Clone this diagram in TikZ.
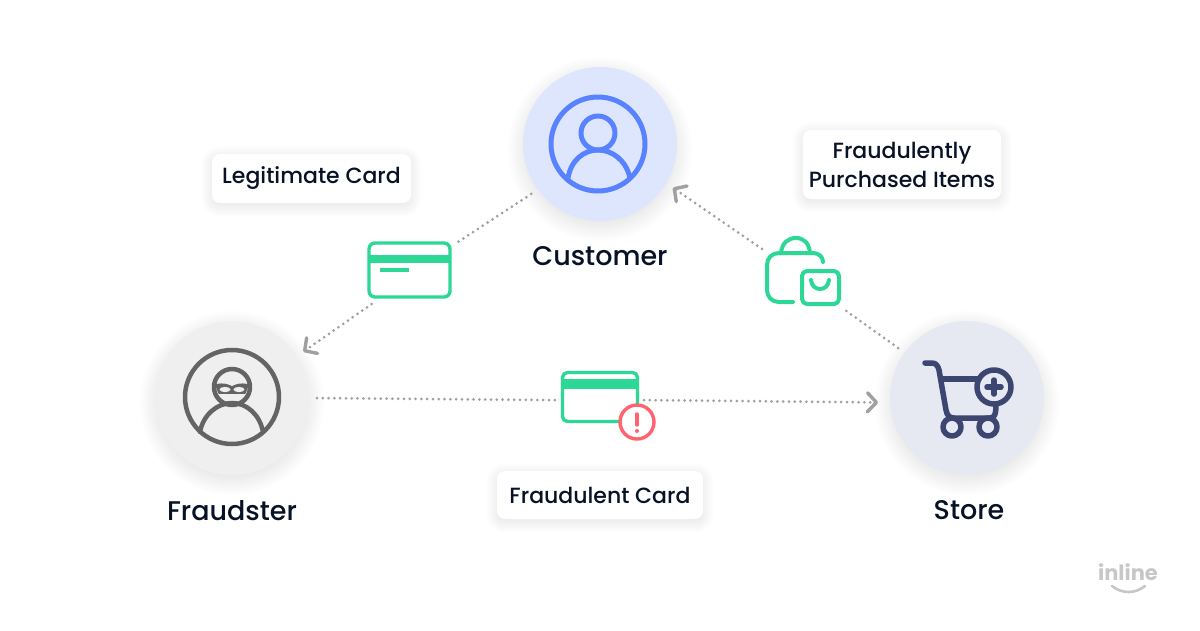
\documentclass[tikz,border=0pt]{standalone}
\usepackage{fontspec}
\setmainfont{Poppins Medium}[BoldFont=Poppins Bold]
\usetikzlibrary{arrows.meta, positioning, backgrounds}
\definecolor{inkNavy}{RGB}{8, 18, 38}
\definecolor{cardGreen}{RGB}{45, 215, 150}
\definecolor{alertRed}{RGB}{255, 99, 112}
\definecolor{custBlue}{RGB}{88, 130, 255}
\definecolor{custFill}{RGB}{222, 230, 253}
\definecolor{fraudGray}{RGB}{100, 100, 100}
\definecolor{fraudFill}{RGB}{239, 239, 239}
\definecolor{storeNavy}{RGB}{61, 70, 112}
\definecolor{storeFill}{RGB}{230, 232, 242}
\definecolor{dotGray}{RGB}{160, 160, 160}
% Soft shadows, built from stacked see-through shapes
\newcommand{\softDisc}[1]{
    \foreach \grow in {-3,-1,...,15}
        \fill [black, opacity=0.009] ([yshift=-5pt]#1.center) circle [radius=77pt+\grow pt];
}
\newcommand{\softBox}[1]{
    \foreach \grow in {-3,-1.5,...,10.5}
        \fill [black, opacity=0.009, rounded corners=8pt+\grow pt]
            ([shift={(-\grow pt,-\grow pt-3pt)}]#1.south west) rectangle ([shift={(\grow pt,\grow pt-3pt)}]#1.north east);
}
\tikzset{
    % Round actor badges
    actor/.style={
        circle,
        minimum size=154pt,
        inner sep=0pt,
        outer sep=8pt
    },
    actorName/.style={font=\fontsize{27}{32}\selectfont, text=inkNavy, inner sep=0pt},
    % White captions
    caption/.style={
        rectangle,
        rounded corners=8pt,
        fill=white,
        inner sep=0pt,
        outer sep=0pt,
        align=center,
        font=\fontsize{22}{29}\selectfont,
        text=inkNavy
    },
    % Invisible holders for the icons
    iconBox/.style={rectangle, inner sep=0pt, outer sep=5pt},
    % Arrow & icon styles
    dotLine/.style={draw=dotGray, line width=3pt, line cap=round, dash pattern=on 0pt off 5.8pt},
    dotArrow/.style={dotLine, -{Straight Barb[length=9pt, width=19pt, line width=3.4pt, round]}},
    iconLine/.style={line width=5pt, line cap=round, line join=round},
    greenLine/.style={draw=cardGreen, line width=3.4pt, line cap=round, line join=round}
}
\begin{document}
\begin{tikzpicture}[x=1pt, y=-1pt]

    \useasboundingbox (0,0) rectangle (1200,630);

    % --- Actors ---
    \node (customer) [actor, fill=custFill] at (600,144) {};
    \node (fraudster) [actor, fill=fraudFill] at (232,398) {};
    \node (store) [actor, fill=storeFill] at (967,398) {};

    \node (customerName) [actorName, below=17pt of customer] {Customer};
    \node (fraudsterName) [actorName, below=17pt of fraudster] {Fraudster};
    \node (storeName) [actorName, below=17pt of store, xshift=2pt] {Store};

    % --- Icon holders ---
    \node (cardA) [iconBox, minimum width=85pt, minimum height=58pt] at (409.5,270) {};
    \node (cardB) [iconBox, minimum width=78pt, minimum height=52pt] at (600,397) {};
    \node (bag) [iconBox, minimum width=73pt, minimum height=68pt] at (803.5,271) {};

    % --- Captions ---
    \node (legitLabel) [caption, minimum width=199pt, minimum height=49pt, yshift=-1pt] at (311.5,177.5) {Legitimate Card};
    \node (itemsLabel) [caption, minimum width=198pt, minimum height=69pt] at (902,164.5) {Fraudulently\\Purchased Items};
    \node (fraudLabel) [caption, minimum width=206pt, minimum height=48pt, below=43pt of cardB] {Fraudulent Card};

    % --- Shadows ---
    \begin{scope}[on background layer]
        \fill [white] (0,0) rectangle (1200,630);
        \softDisc{customer}
        \softDisc{fraudster}
        \softDisc{store}
        \softBox{legitLabel}
        \softBox{itemsLabel}
        \softBox{fraudLabel}
    \end{scope}

    % --- Arrows ---
    \draw [dotLine] (customer.216) -- (cardA.30);
    \draw [dotArrow] (cardA.222) -- (fraudster.33);
    \draw [dotLine] (fraudster.east) -- (cardB.184);
    \draw [dotArrow, shorten >=4pt] (cardB.-4) -- (store.183);
    \draw [dotLine] (store.144) -- (bag.south east);
    \draw [dotArrow] (bag.152) -- (customer.-31);

    % --- Customer icon ---
    \begin{scope}[iconLine, draw=custBlue]
        \draw (598,144) circle [radius=47pt];
        \draw (598,133) circle [radius=17pt];
        \draw (568,178) .. controls (571,160) and (584,150) .. (598,150) .. controls (612,150) and (626,160) .. (630,178);
    \end{scope}

    % --- Fraudster icon ---
    \begin{scope}[iconLine, draw=fraudGray, line width=4.5pt]
        \draw (232,397) circle [radius=47pt];
        \draw (232,387) circle [radius=18pt];
        \draw (200,432) .. controls (203,415) and (217,403) .. (232,403) .. controls (247,403) and (260,415) .. (263,432);
        \draw [line width=1.5pt, fill=fraudGray] (216,385) .. controls (224,383) and (228,385) .. (232,387) .. controls (236,385) and (240,383) .. (248,385) -- (245,393) -- (219,393) -- cycle;
        \fill [fraudFill] (225,389.5) ellipse [x radius=5.5pt, y radius=2.6pt];
        \fill [fraudFill] (239,389.5) ellipse [x radius=5.5pt, y radius=2.6pt];
    \end{scope}

    % --- Store icon ---
    \begin{scope}[iconLine, draw=storeNavy, line width=5.5pt]
        \draw (925,363) -- (932,363) .. controls (936,363) and (938,366) .. (939,370) -- (946,410) .. controls (947,416) and (950,418) .. (954,418) -- (990,418) .. controls (994,418) and (996,415) .. (996,405);
        \draw (942,379) -- (977,379);
        \draw (994,387) circle [radius=17pt];
        \draw (994,380) -- (994,394);
        \draw (987,387) -- (1001,387);
        \draw (952,427) circle [radius=9pt];
        \draw (988,427) circle [radius=9pt];
    \end{scope}

    % --- Legitimate card icon ---
    \draw [greenLine, rounded corners=6pt] (369,243) rectangle (450,297);
    \fill [cardGreen] (369,255) rectangle (450,263);
    \draw [greenLine, line cap=butt] (380,270) -- (409,270);

    % --- Shopping bag icon ---
    \draw [greenLine, line width=4pt] (793,302) -- (779,302) .. controls (772,302) and (767,297) .. (767,290) -- (767,265) .. controls (767,258) and (772,253) .. (779,253) -- (813,253) .. controls (819,253) and (823,257) .. (823,262);
    \draw [greenLine, line width=4pt] (781,253) .. controls (782,243) and (788,238) .. (796,238) .. controls (804,238) and (809,243) .. (810,253);
    \draw [greenLine, line width=4pt, rounded corners=5pt] (802,271) rectangle (839,304);
    \draw [greenLine, line width=4pt] (811,280) .. controls (812,292) and (828,292) .. (829,280);

    % --- Fraudulent card icon ---
    \draw [greenLine, rounded corners=5pt] (562.5,372.5) rectangle (637.5,421.5);
    \fill [cardGreen] (562,379) rectangle (638,389);
    \draw [draw=alertRed, fill=white, line width=3.4pt] (637,422) circle [radius=17pt];
    \draw [draw=alertRed, line width=3.4pt, line cap=round] (637,414) -- (637,425);
    \fill [alertRed] (637,431) circle [radius=2pt];

    % --- Logo ---
    \node (logo) [font=\fontsize{21}{21}\selectfont\bfseries, text=black!22, inner sep=0pt] at (1128,572) {inline};
    \draw [draw=black!22, line width=2.6pt, line cap=round] (1112,586) .. controls (1122,594) and (1135,594) .. (1145,586);

\end{tikzpicture}
\end{document}
